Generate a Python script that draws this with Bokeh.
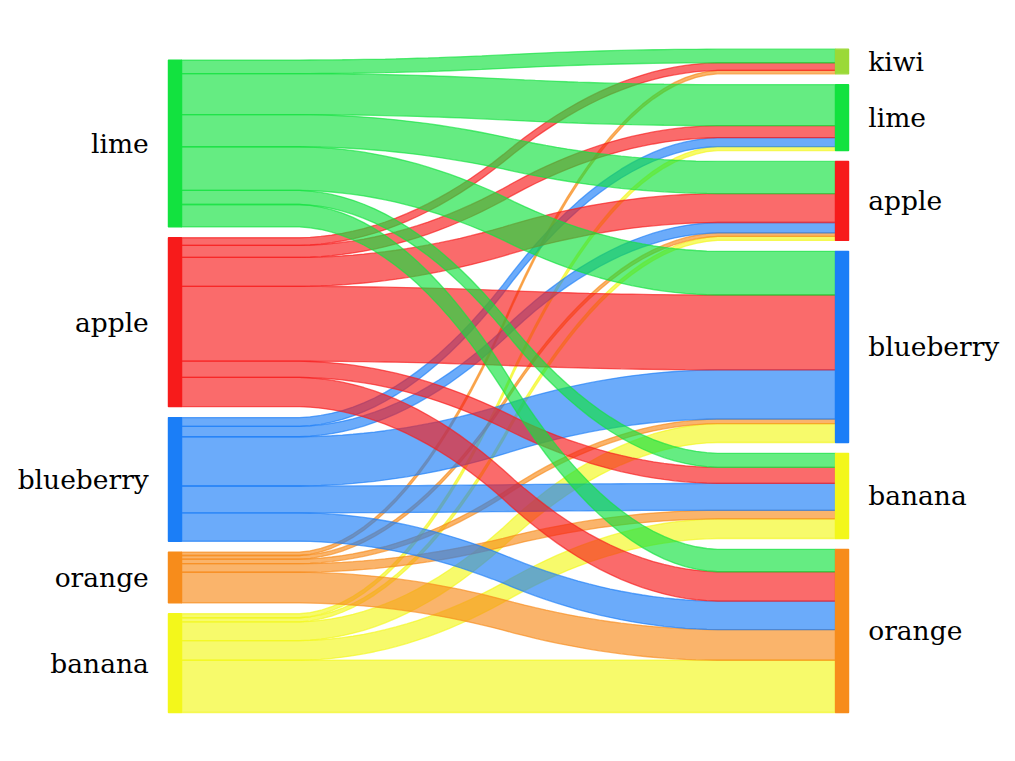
import numpy as np
from bokeh.plotting import figure
from bokeh.models import Range1d
from bokeh.core.properties import value
from bokeh.embed import file_html
from bokeh.resources import INLINE

# Node order, bottom to top
left_labels = ["banana", "orange", "blueberry", "apple", "lime"]
right_labels = ["orange", "banana", "blueberry", "apple", "lime", "kiwi"]

# Flow weights from each source to targets (in this target order)
targets = ["kiwi", "lime", "apple", "blueberry", "banana", "orange"]
lime_out = [13.5, 40.8, 32.0, 43.5, 14.0, 22.3]
apple_out = [7.6, 12.0, 28.8, 74.5, 16.0, 29.3]
blueberry_out = [0, 8.8, 10.3, 49.0, 26.7, 28.3]
orange_out = [3.4, 0, 3.6, 4.5, 8.6, 30.5]
banana_out = [0, 4.0, 4.0, 18.8, 19.5, 52.0]

colors = {
    "apple": "#f71b1b",
    "blueberry": "#1b7ef7",
    "banana": "#f3f71b",
    "lime": "#12e23f",
    "orange": "#f78c1b",
    "kiwi": "#9BD937",
}

outs = {"lime": lime_out, "apple": apple_out, "blueberry": blueberry_out,
        "orange": orange_out, "banana": banana_out}
flows = {(s, t): w for s, ws in outs.items() for t, w in zip(targets, ws) if w > 0}

total = sum(flows.values())
gap = 0.0178 * total

def stack(labels, side):
    d = {}
    prev_top = None
    for lab in labels:
        if side == "left":
            size = sum(w for (s, t), w in flows.items() if s == lab)
        else:
            size = sum(w for (s, t), w in flows.items() if t == lab)
        bottom = 0 if prev_top is None else prev_top + gap
        d[lab] = {"bottom": bottom, "size": size, "top": bottom + size}
        prev_top = bottom + size
    return d

lw = stack(left_labels, "left")
rw = stack(right_labels, "right")
top_edge = max(lw[left_labels[-1]]["top"], rw[right_labels[-1]]["top"])

# pixel mapping
W, H = 1015, 761
x0_px, x1_px = 181, 835
kx = x1_px - x0_px
y_bot_px, y_top_px = 712.0, 48.7
ky = (y_bot_px - y_top_px) / top_edge

p = figure(width=W, height=H, output_backend="svg", toolbar_location=None,
           x_axis_location=None, y_axis_location=None, min_border=0,
           x_range=Range1d(-x0_px / kx, (W - x0_px) / kx),
           y_range=Range1d(-(H - y_bot_px) / ky, top_edge + y_top_px / ky))
p.grid.visible = False
p.outline_line_color = None
p.background_fill_color = "white"
p.border_fill_color = "white"

# strips
lb = {k: v["bottom"] for k, v in lw.items()}
rb = {k: v["bottom"] for k, v in rw.items()}
kernel = 0.05 * np.ones(20)
xs_list, ys_list, cols = [], [], []
for sl in left_labels:
    for tl in right_labels:
        w = flows.get((sl, tl))
        if not w:
            continue
        yd = np.array(50 * [lb[sl]] + 50 * [rb[tl]])
        yd = np.convolve(np.convolve(yd, kernel, mode="valid"), kernel, mode="valid")
        yu = np.array(50 * [lb[sl] + w] + 50 * [rb[tl] + w])
        yu = np.convolve(np.convolve(yu, kernel, mode="valid"), kernel, mode="valid")
        lb[sl] += w
        rb[tl] += w
        xx = np.linspace(0, 1, len(yd))
        xs_list.append(np.concatenate([xx, xx[::-1]]))
        ys_list.append(np.concatenate([yd, yu[::-1]]))
        cols.append(colors[sl])

p.patches(xs_list, ys_list, fill_color=cols, fill_alpha=0.65,
          line_color=cols, line_alpha=0.65, line_width=1.3)

# node bars
FS = "26.5px"
for lab in left_labels:
    d = lw[lab]
    p.quad(left=-0.02, right=0, bottom=d["bottom"], top=d["top"],
           fill_color=colors[lab], line_color=colors[lab], line_width=1.3)
    p.text(x=[-0.05], y=[d["bottom"] + 0.5 * d["size"]], text=[lab],
           text_align="right", text_baseline="middle",
           text_font=value("DejaVu Serif"), text_font_size=FS, text_color="black")
for lab in right_labels:
    d = rw[lab]
    p.quad(left=1, right=1.02, bottom=d["bottom"], top=d["top"],
           fill_color=colors[lab], line_color=colors[lab], line_width=1.3)
    p.text(x=[1.05], y=[d["bottom"] + 0.5 * d["size"]], text=[lab],
           text_align="left", text_baseline="middle",
           text_font=value("DejaVu Serif"), text_font_size=FS, text_color="black")

open("out.html", "w").write(file_html(p, INLINE))
